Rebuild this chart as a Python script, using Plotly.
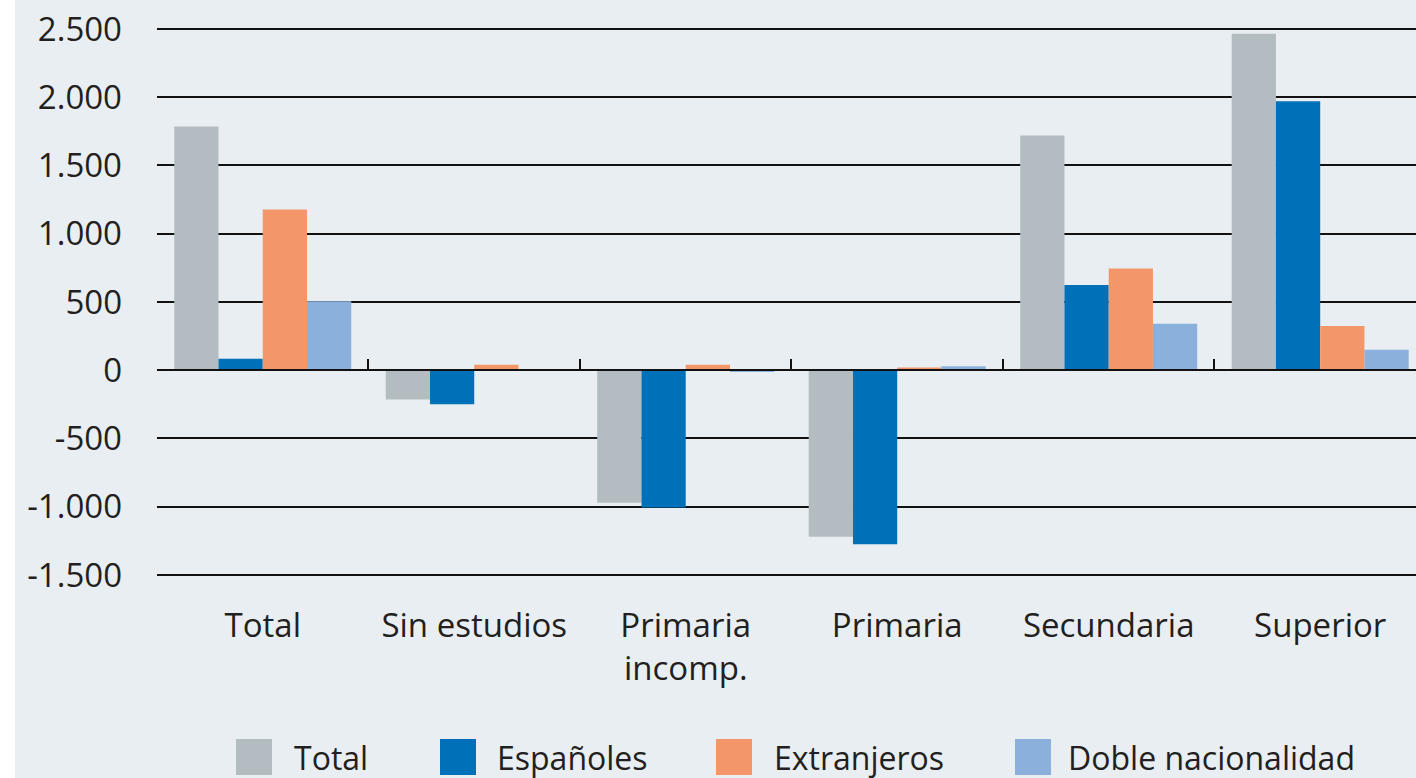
import plotly.graph_objects as go

categories = ["Total", "Sin estudios", "Primaria<br>incomp.", "Primaria", "Secundaria", "Superior"]
series_names = ["Total", "Españoles", "Extranjeros", "Doble nacionalidad"]
total = [1785, -215, -970, -1220, 1720, 2465]
espanoles = [85, -250, -1005, -1275, 625, 1970]
extranjeros = [1178, 40, 40, 20, 745, 325]
doble = [505, 5, -10, 30, 340, 150]
series_values = [total, espanoles, extranjeros, doble]
colors = ["#b3bdc1", "#0071b9", "#f3976a", "#8cb0dc"]
y_tickvals = [-1500, -1000, -500, 0, 500, 1000, 1500, 2000, 2500]
y_ticktext = ["-1.500", "-1.000", "-500", "0", "500", "1.000", "1.500", "2.000", "2.500"]

# layout constants (pixels)
W, H = 1416, 778
ML, MR, MT, MB = 157, 0, 8, 189
PW, PH = W - ML - MR, H - MT - MB
FONT = "Open Sans"
TXT = "#231f20"
BG = "#e9eef2"
YMIN, YMAX = -1602.6, 2653.8
XMAX = 5.453
legend_swatch_left = [236, 440, 716, 1015]
legend_text_left = [292, 495, 772, 1066]
legend_center_y = 757
swatch = 36


def px_x(px):
    return (px - ML) / PW


def px_y(py):
    return (H - MB - py) / PH


fig = go.Figure()
for name, vals, col in zip(series_names, series_values, colors):
    fig.add_trace(go.Bar(x=categories, y=vals, name=name, marker=dict(color=col, line=dict(width=0))))
# helper trace so the zero-line axis with boundary ticks is drawn
fig.add_trace(go.Scatter(x=[None], y=[None], xaxis="x2", yaxis="y", showlegend=False, hoverinfo="skip"))

zero_pos = (0 - YMIN) / (YMAX - YMIN)

shapes = [dict(type="rect", xref="paper", yref="paper", x0=px_x(0), x1=px_x(15),
               y0=px_y(H), y1=px_y(0), fillcolor="white", line=dict(width=0), layer="below")]
annotations = []
for name, col, sx, tx in zip(series_names, colors, legend_swatch_left, legend_text_left):
    shapes.append(dict(type="rect", xref="paper", yref="paper", x0=px_x(sx), x1=px_x(sx + swatch),
                       y0=px_y(legend_center_y + swatch / 2), y1=px_y(legend_center_y - swatch / 2),
                       fillcolor=col, line=dict(width=0)))
    annotations.append(dict(text=name, xref="paper", yref="paper", x=px_x(tx), y=px_y(legend_center_y),
                            xanchor="left", yanchor="middle", showarrow=False,
                            font=dict(family=FONT, size=32, color=TXT)))

fig.update_layout(
    width=W, height=H,
    margin=dict(l=ML, r=MR, t=MT, b=MB),
    paper_bgcolor=BG, plot_bgcolor=BG,
    barmode="group", bargap=0.163, bargroupgap=0,
    showlegend=False,
    font=dict(family=FONT, size=33, color=TXT),
    xaxis=dict(type="category", range=[-0.5, XMAX], showgrid=False, showline=False, ticks="",
               tickfont=dict(family=FONT, size=33, color=TXT), ticklabelstandoff=14, fixedrange=True),
    xaxis2=dict(overlaying="x", anchor="free", position=zero_pos, side="bottom", range=[-0.5, XMAX],
                tickvals=[-0.5, 0.5, 1.5, 2.5, 3.5, 4.5], ticks="inside", ticklen=10, tickwidth=2,
                tickcolor="#111111", showticklabels=False, showline=True, linecolor="#111111",
                linewidth=2, showgrid=False, zeroline=False),
    yaxis=dict(range=[YMIN, YMAX], tickvals=y_tickvals, ticktext=y_ticktext, showgrid=True,
               gridcolor="#111111", gridwidth=2, zeroline=False, showline=False, ticks="",
               tickfont=dict(family=FONT, size=33, color=TXT), ticklabelstandoff=34),
    shapes=shapes,
    annotations=annotations,
)

fig.write_html("out.html", config={"displayModeBar": False},
               post_script="document.body.style.margin='0';")
